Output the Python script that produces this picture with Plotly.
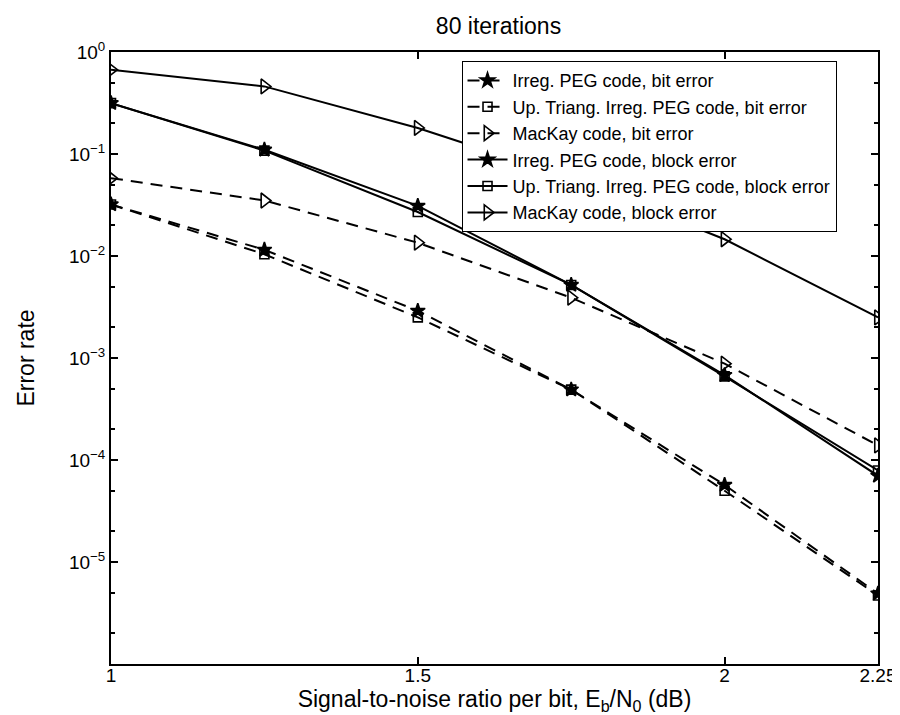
import plotly.graph_objects as go

snr = [1.0, 1.25, 1.5, 1.75, 2.0, 2.25]

irreg_bit = [0.032, 0.0115, 0.0029, 0.00049, 5.7e-5, 4.9e-6]
uptri_bit = [0.032, 0.0104, 0.0025, 0.00049, 5.0e-5, 4.7e-6]
mackay_bit = [0.058, 0.035, 0.0135, 0.0039, 0.00088, 0.000139]
irreg_block = [0.315, 0.11, 0.031, 0.0052, 0.00068, 7.0e-5]
uptri_block = [0.315, 0.108, 0.027, 0.0052, 0.00066, 7.9e-5]
mackay_block = [0.67, 0.46, 0.18, 0.058, 0.0146, 0.0025]

names = [
    "Irreg. PEG code, bit error",
    "Up. Triang. Irreg. PEG code, bit error",
    "MacKay code, bit error",
    "Irreg. PEG code, block error",
    "Up. Triang. Irreg. PEG code, block error",
    "MacKay code, block error",
]

x_ticks = [1, 1.5, 2, 2.25]
x_ticklabels = ["1", "1.5", "2", "2.25"]
y_ticks = [1e-6, 1e-5, 1e-4, 1e-3, 1e-2, 1e-1, 1]
y_ticklabels = ["", "10<sup>−5</sup>", "10<sup>−4</sup>", "10<sup>−3</sup>",
                "10<sup>−2</sup>", "10<sup>−1</sup>", "10<sup>0</sup>"]

DASH = "12px,8px"
series = [
    (irreg_bit, DASH, "star", 11),
    (uptri_bit, DASH, "square-open", 9),
    (mackay_bit, DASH, "triangle-right-open", 13),
    (irreg_block, "solid", "star", 11),
    (uptri_block, "solid", "square-open", 9),
    (mackay_block, "solid", "triangle-right-open", 13),
]

fig = go.Figure()
for (vals, dash, sym, sz), nm in zip(series, names):
    fig.add_trace(go.Scatter(
        x=snr, y=vals, name=nm, mode="lines+markers",
        line=dict(color="black", width=2, dash=dash),
        marker=dict(symbol=sym, size=sz, color="black",
                    line=dict(color="black", width=1.6)),
    ))

FONT = "Liberation Sans, Arial, sans-serif"
axis_common = dict(
    showline=True, linecolor="black", linewidth=2, mirror="allticks",
    ticks="inside", ticklen=7, tickcolor="black", tickwidth=1.5,
    showgrid=False, zeroline=False,
    tickfont=dict(family=FONT, size=19, color="black"),
)

fig.update_layout(
    width=900, height=715,
    margin=dict(l=103, r=22, t=44, b=59),
    paper_bgcolor="white", plot_bgcolor="white",
    font=dict(family=FONT, color="black", size=19),
    title=dict(text="80 iterations", x=(103 + 878) / 2 / 900, xanchor="center",
               y=1 - 18 / 715, yanchor="middle",
               font=dict(family=FONT, size=23, color="black")),
    xaxis=dict(range=[1, 2.25], tickvals=x_ticks, ticktext=x_ticklabels,
               ticklabelstandoff=-7,
               title=dict(text="Signal-to-noise ratio per bit, E<sub>b</sub>/N<sub>0</sub> (dB)",
                          font=dict(family=FONT, size=23, color="black"), standoff=0),
               **axis_common),
    yaxis=dict(type="log", range=[-6, 0],
               tickvals=y_ticks, ticktext=y_ticklabels,
               minor=dict(ticks="inside", ticklen=4, tickcolor="black", showgrid=False),
               title=dict(text="Error rate", font=dict(family=FONT, size=23, color="black"),
                          standoff=28),
               **axis_common),
    legend=dict(x=0.457, y=0.985, xanchor="left", yanchor="top",
                bgcolor="white", bordercolor="black", borderwidth=1,
                font=dict(family=FONT, size=18, color="black"), tracegroupgap=0,
                itemwidth=40),
    showlegend=True,
)

fig.write_html("out.html")
